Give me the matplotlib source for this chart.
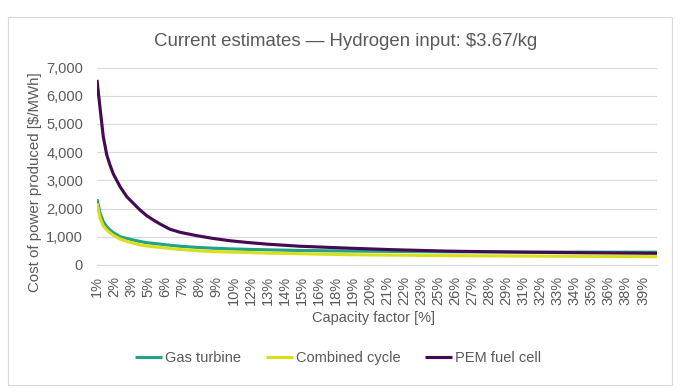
import matplotlib
matplotlib.use("Agg")
import matplotlib.pyplot as plt
import numpy as np
from matplotlib.patches import Rectangle

plt.rcParams['font.family'] = ['Liberation Sans', 'DejaVu Sans']

# Capacity factor (%) and cost values
cf = [1.10, 1.31, 1.53, 1.77, 1.99, 2.22, 2.68, 3.14, 3.59, 4.05, 4.51, 4.96,
      5.42, 6.11, 6.79, 7.94, 9.08, 10.22, 11.37, 12.74, 15.0, 18.45, 21.54,
      25.3, 31.1, 36.97, 39.5]
gas_turbine = [2330, 1833, 1536, 1358, 1240, 1145, 1004, 940, 887, 835, 791, 765,
               740, 700, 665, 625, 595, 572, 556, 538, 515, 495, 480,
               468, 458, 455, 453]
combined_cycle = [2188, 1656, 1383, 1241, 1140, 1053, 922, 840, 770, 715, 674, 648,
                  622, 585, 550, 505, 475, 458, 443, 420, 400, 365, 350,
                  330, 315, 300, 295]
pem_fuel_cell = [6560, 5555, 4550, 3900, 3546, 3227, 2777, 2422, 2187, 1950, 1748, 1596,
                 1454, 1266, 1160, 1040, 940, 860, 800, 740, 665, 595, 540,
                 490, 450, 425, 415]

tick_labels = ["1%", "2%", "3%", "5%", "6%", "7%", "8%", "9%", "10%", "12%", "13%",
               "14%", "15%", "16%", "18%", "19%", "20%", "21%", "22%", "23%", "25%",
               "26%", "27%", "28%", "29%", "31%", "32%", "33%", "34%", "35%", "36%",
               "38%", "39%"]
y_ticks = [0, 1000, 2000, 3000, 4000, 5000, 6000, 7000]

series = [("Gas turbine", gas_turbine, "#22a385"),
          ("Combined cycle", combined_cycle, "#d9e01b"),
          ("PEM fuel cell", pem_fuel_cell, "#440a52")]

GRAY = "#595959"
fig = plt.figure(figsize=(6.88, 3.92), dpi=100)
fig.patches.append(Rectangle((8/688, 1-385/392), 664/688, 368/392, transform=fig.transFigure,
                             fill=False, edgecolor="#d9d9d9", linewidth=0.8))
ax = fig.add_axes([97/688, 1-265/392, 560/688, (265-67.5)/392])

for name, vals, col in series:
    ax.plot(cf, vals, color=col, linewidth=2.25, label=name, solid_capstyle='butt')

ax.set_xlim(cf[0], cf[-1])
ax.set_ylim(0, 7000)
tick_pos = np.linspace(1.10, 1.10 + 1.17 * (len(tick_labels) - 1), len(tick_labels))
ax.set_xticks(tick_pos)
ax.set_xticklabels(tick_labels, rotation=90, fontsize=10.5, color=GRAY)
ax.set_yticks(y_ticks)
ax.set_yticklabels([f"{v:,}" for v in y_ticks], fontsize=10.5, color=GRAY)
ax.tick_params(length=0)
ax.tick_params(axis='x', pad=8)
ax.tick_params(axis='y', pad=10)
ax.grid(axis='y', color="#d9d9d9", linewidth=0.8)
ax.set_axisbelow(True)
for s in ["left", "right", "top"]:
    ax.spines[s].set_visible(False)
ax.spines["bottom"].set_color("#d9d9d9")
ax.spines["bottom"].set_linewidth(0.8)

fig.text(374/688, 1-318/392, "Capacity factor [%]", ha="center", va="center",
         fontsize=10.5, color=GRAY)
fig.text(35/688, 1-182/392, "Cost of power produced [$/MWh]", ha="center", va="center",
         rotation=90, fontsize=10.8, color=GRAY)
fig.text(346/688, 1-42/392, "Current estimates \u2014 Hydrogen input: $3.67/kg", ha="center", va="center",
         fontsize=13.4, color=GRAY)

leg = fig.legend(loc="center", bbox_to_anchor=(338/688, 1-358/392), ncol=3, frameon=False,
                 fontsize=10.5, handlelength=1.85, columnspacing=1.7, handletextpad=0.2)
for t in leg.get_texts():
    t.set_color(GRAY)

fig.savefig("out.png", dpi=100)
